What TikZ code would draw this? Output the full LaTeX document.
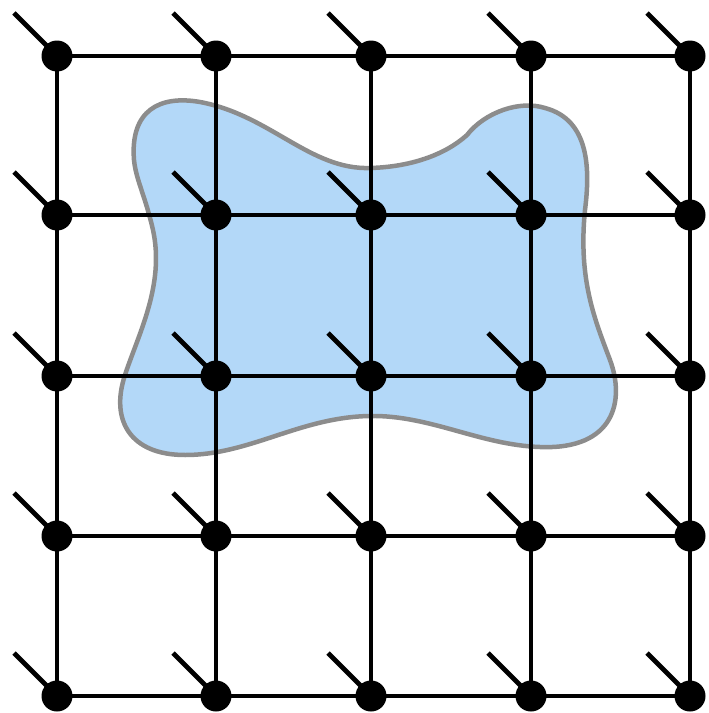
\documentclass[tikz,border=0pt]{standalone}
\usetikzlibrary{calc}
\definecolor{blobfill}{HTML}{B3D8F8}
\definecolor{blobline}{HTML}{8C8C8C}
\pgfdeclarelayer{blobl}
\pgfdeclarelayer{back}
\pgfsetlayers{blobl,back,main}
\tikzset{
  site/.style={circle,fill=black,draw=none,minimum size=0.62cm,inner sep=0pt},
  bond/.style={line width=0.095cm,black},
  leg/.style={line width=0.095cm,black},
  blob/.style={fill=blobfill,draw=blobline,line width=0.09cm}
}
\begin{document}
\begin{tikzpicture}[x=0.02cm,y=-0.02cm]
\useasboundingbox (0,0) rectangle (709,713);
\def\xs{{57,216,371,531,690}}
\def\ys{{56,215,376,536,696}}
% sites
\foreach \i in {0,...,4}{
  \foreach \j in {0,...,4}{
    \pgfmathsetmacro{\xx}{\xs[\i]}
    \pgfmathsetmacro{\yy}{\ys[\j]}
    \node[site] (n\i\j) at (\xx,\yy) {};
    \coordinate (l\i\j) at ($(n\i\j.center)+(-43,-43)$);
  }
}
% blob
\begin{pgfonlayer}{blobl}
\draw[blob] (134,160)
  .. controls (130,110) and (160,95) .. (200,102)
  .. controls (270,115) and (310,170) .. (370,168)
  .. controls (410,167) and (445,155) .. (467,135)
  .. controls (485,112) and (520,100) .. (545,108)
  .. controls (590,120) and (590,170) .. (585,210)
  .. controls (578,280) and (595,320) .. (610,360)
  .. controls (625,400) and (615,450) .. (540,447)
  .. controls (480,445) and (430,415) .. (370,416)
  .. controls (300,417) and (250,455) .. (185,455)
  .. controls (130,455) and (110,420) .. (125,375)
  .. controls (138,335) and (165,285) .. (153,230)
  .. controls (145,195) and (136,180) .. (134,160) -- cycle;
\end{pgfonlayer}
\begin{pgfonlayer}{back}
% bonds
\foreach \i in {0,...,4}{
  \foreach \j [evaluate=\j as \k using int(\j+1)] in {0,...,3}{
    \draw[bond] (n\i\j.center) -- (n\i\k.center);
    \draw[bond] (n\j\i.center) -- (n\k\i.center);
  }
}
% legs
\foreach \i in {0,...,4}{
  \foreach \j in {0,...,4}{
    \draw[leg] (l\i\j) -- (n\i\j.center);
  }
}
\end{pgfonlayer}
\end{tikzpicture}
\end{document}
